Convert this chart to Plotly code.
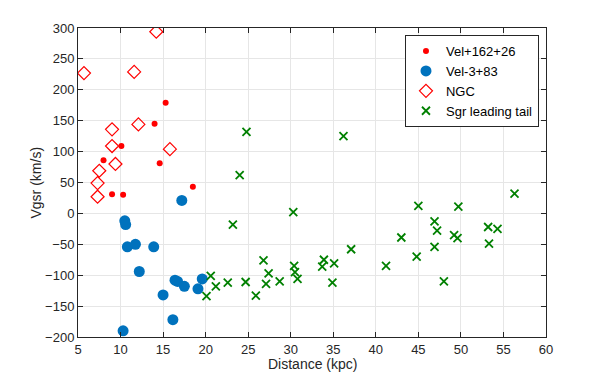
import plotly.graph_objects as go

vel162_x = [8.0, 9.0, 10.1, 10.3, 14.0, 14.6, 15.3, 18.5]
vel162_y = [86, 31, 109, 30, 145, 81, 179, 43]

vel3_x = [17.2, 10.5, 10.6, 10.8, 11.75, 13.9, 12.2, 16.4, 16.7, 17.5, 19.1, 19.6, 15.0, 16.15, 10.3]
vel3_y = [21, -12, -18, -54, -50, -54, -94, -108, -110, -118, -122, -106, -132, -172, -190]

ngc_x = [5.7, 14.2, 11.6, 12.1, 9.0, 9.0, 15.8, 9.4, 7.5, 7.3, 7.3]
ngc_y = [227, 294, 229, 144, 136, 109, 104, 80, 69, 49, 27]

sgr_x = [24.8, 36.2, 24.0, 30.3, 23.2, 37.1, 26.8, 33.9, 35.1, 33.7, 30.4, 30.5, 30.8,
         27.4, 27.1, 28.7, 24.7, 22.6, 21.2, 20.6, 20.1, 25.9, 34.9, 41.2, 45.0, 49.7,
         56.3, 46.9, 47.2, 43.0, 53.2, 54.3, 49.2, 49.6, 46.9, 53.3, 44.8, 48.0]
sgr_y = [132, 125, 62, 2, -18, -58, -76, -75, -81, -86, -85, -95, -106,
         -97, -114, -110, -111, -112, -118, -101, -134, -133, -112, -85, 12, 11,
         32, -13, -28, -39, -22, -25, -35, -40, -54, -49, -70, -110]

x_ticks = [5, 10, 15, 20, 25, 30, 35, 40, 45, 50, 55, 60]
y_ticks = [300, 250, 200, 150, 100, 50, 0, -50, -100, -150, -200]
x_title = "Distance (kpc)"
y_title = "Vgsr (km/s)"

fig = go.Figure()
fig.add_trace(go.Scatter(x=vel162_x, y=vel162_y, mode="markers", name="Vel+162+26",
                         marker=dict(symbol="circle", size=6, color="#ff0000")))
fig.add_trace(go.Scatter(x=vel3_x, y=vel3_y, mode="markers", name="Vel-3+83",
                         marker=dict(symbol="circle", size=11, color="#0072bd")))
fig.add_trace(go.Scatter(x=ngc_x, y=ngc_y, mode="markers", name="NGC",
                         marker=dict(symbol="diamond-open", size=10, color="#ff0000",
                                     line=dict(width=1.2, color="#ff0000"))))
fig.add_trace(go.Scatter(x=sgr_x, y=sgr_y, mode="markers", name="Sgr leading tail",
                         marker=dict(symbol="x-thin-open", size=8, color="#008000",
                                     line=dict(width=1.8, color="#008000"))))

font_family = "Liberation Sans, Arial, Helvetica, sans-serif"
axis_common = dict(showgrid=True, gridcolor="#e6e6e6", gridwidth=1, automargin=False,
                   showline=True, linecolor="#262626", linewidth=1, mirror="allticks",
                   ticks="inside", ticklen=5, tickcolor="#262626", zeroline=False,
                   tickfont=dict(family=font_family, size=13, color="#262626"))

fig.update_layout(
    width=603, height=379,
    margin=dict(l=70, r=65, t=20, b=50),
    paper_bgcolor="white", plot_bgcolor="white",
    font=dict(family=font_family, color="#262626"),
    showlegend=True,
    legend=dict(x=0.985, y=0.977, xanchor="right", yanchor="top",
                bgcolor="white", bordercolor="#262626", borderwidth=1,
                font=dict(family=font_family, size=13, color="#000000"),
                tracegroupgap=0, itemsizing="trace", itemwidth=30),
    annotations=[
        dict(text=x_title, xref="paper", yref="paper", x=0.5, y=0, yshift=-27,
             xanchor="center", yanchor="middle", showarrow=False,
             font=dict(family=font_family, size=14, color="#262626")),
        dict(text=y_title, xref="paper", yref="paper", x=0, y=0.5, xshift=-43,
             xanchor="center", yanchor="middle", showarrow=False, textangle=-90,
             font=dict(family=font_family, size=14, color="#262626")),
    ],
)
fig.update_xaxes(range=[5, 60], tickvals=x_ticks, **axis_common)
fig.update_yaxes(range=[-200, 300], tickvals=y_ticks, **axis_common)

fig.write_html("out.html")
